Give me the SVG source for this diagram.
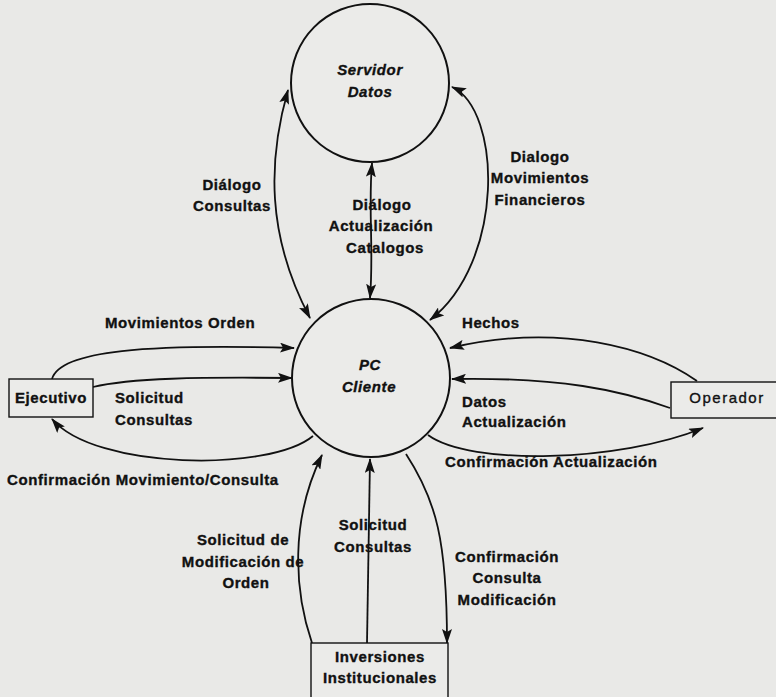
<svg xmlns="http://www.w3.org/2000/svg" width="776" height="697" viewBox="0 0 776 697">
  <style>
    .proc { fill: #ebebe9; stroke: #111; stroke-width: 2; }
    .ext { fill: #ebebe9; stroke: #111; stroke-width: 1.4; }
    .flow { fill: none; stroke: #111; stroke-width: 1.8; }
    .lbl { font-family: "Liberation Sans", Arial, sans-serif; font-size: 15px; font-weight: bold; letter-spacing: 0.6px; fill: #111; stroke: #111; stroke-width: 0.35; }
    .name { font-family: "Liberation Sans", Arial, sans-serif; font-size: 15px; font-weight: bold; font-style: italic; letter-spacing: 0.6px; fill: #111; stroke: #111; stroke-width: 0.35; text-anchor: middle; }
    .mid { text-anchor: middle; }
  </style>
  <defs>
    <marker id="arrow" viewBox="0 0 15 10" refX="14" refY="5" markerWidth="15" markerHeight="10" markerUnits="userSpaceOnUse" orient="auto-start-reverse">
      <path d="M0,0 L15,5 L0,10 L3,5 Z" fill="#111"/>
    </marker>
  </defs>

  <rect x="0" y="0" width="776" height="697" fill="#e9e9e7"/>

  <!-- connectors -->
  <g id="connectors">
    <path class="flow" d="M288 90 C 268 160, 266 235, 310 318" marker-start="url(#arrow)" marker-end="url(#arrow)"/>
    <path class="flow" d="M372 163 C 368 210, 374 250, 370 298" marker-start="url(#arrow)" marker-end="url(#arrow)"/>
    <path class="flow" d="M452 87 C 502 110, 505 262, 430 320" marker-start="url(#arrow)" marker-end="url(#arrow)"/>
    <path class="flow" d="M52 379 C 60 350, 150 344, 294 348" marker-end="url(#arrow)"/>
    <path class="flow" d="M93 387 C 130 378, 200 377, 292 378" marker-end="url(#arrow)"/>
    <path class="flow" d="M313 436 C 270 472, 95 470, 52 419" marker-end="url(#arrow)"/>
    <path class="flow" d="M697 381 C 650 348, 560 322, 450 348" marker-end="url(#arrow)"/>
    <path class="flow" d="M670 408 C 620 390, 560 377, 452 379" marker-end="url(#arrow)"/>
    <path class="flow" d="M428 435 C 470 466, 620 462, 703 428" marker-end="url(#arrow)"/>
    <path class="flow" d="M312 643 C 294 590, 290 520, 322 455" marker-end="url(#arrow)"/>
    <path class="flow" d="M367 643 L 370 459" marker-end="url(#arrow)"/>
    <path class="flow" d="M406 454 C 436 500, 447 540, 447 643" marker-end="url(#arrow)"/>
  </g>

  <!-- processes -->
  <g id="servidor-datos">
    <circle class="proc" cx="370" cy="83" r="79"/>
    <text class="name" x="370" y="75">Servidor</text>
    <text class="name" x="370" y="97">Datos</text>
  </g>
  <g id="pc-cliente">
    <circle class="proc" cx="371" cy="378" r="79"/>
    <text class="name" x="370" y="370">PC</text>
    <text class="name" x="369" y="392">Cliente</text>
  </g>

  <!-- external entities -->
  <g id="ejecutivo">
    <rect class="ext" x="9" y="379" width="84" height="38"/>
    <text class="lbl mid" x="51" y="403">Ejecutivo</text>
  </g>
  <g id="operador">
    <rect class="ext" x="671" y="382" width="115" height="36"/>
    <text class="lbl mid" x="727" y="403" style="font-weight:normal;letter-spacing:1.5px">Operador</text>
  </g>
  <g id="inversiones">
    <rect class="ext" x="311" y="643" width="137" height="64"/>
    <text class="lbl mid" x="380" y="662">Inversiones</text>
    <text class="lbl mid" x="380" y="683">Institucionales</text>
  </g>

  <!-- flow labels -->
  <g id="labels">
    <text class="lbl mid" x="232" y="190">Diálogo</text>
    <text class="lbl mid" x="232" y="211">Consultas</text>

    <text class="lbl mid" x="382" y="210">Diálogo</text>
    <text class="lbl mid" x="381" y="231">Actualización</text>
    <text class="lbl mid" x="385" y="253">Catalogos</text>

    <text class="lbl mid" x="540" y="162">Dialogo</text>
    <text class="lbl mid" x="540" y="183">Movimientos</text>
    <text class="lbl mid" x="540" y="205">Financieros</text>

    <text class="lbl" x="105" y="328">Movimientos Orden</text>
    <text class="lbl" x="115" y="403">Solicitud</text>
    <text class="lbl" x="115" y="425">Consultas</text>
    <text class="lbl" x="7" y="485">Confirmación Movimiento/Consulta</text>

    <text class="lbl" x="462" y="328">Hechos</text>
    <text class="lbl" x="462" y="407">Datos</text>
    <text class="lbl" x="462" y="427">Actualización</text>
    <text class="lbl" x="445" y="467">Confirmación Actualización</text>

    <text class="lbl mid" x="243" y="545">Solicitud de</text>
    <text class="lbl mid" x="243" y="567">Modificación de</text>
    <text class="lbl mid" x="246" y="588">Orden</text>

    <text class="lbl mid" x="373" y="530">Solicitud</text>
    <text class="lbl mid" x="373" y="552">Consultas</text>

    <text class="lbl mid" x="507" y="562">Confirmación</text>
    <text class="lbl mid" x="507" y="583">Consulta</text>
    <text class="lbl mid" x="507" y="605">Modificación</text>
  </g>
</svg>
